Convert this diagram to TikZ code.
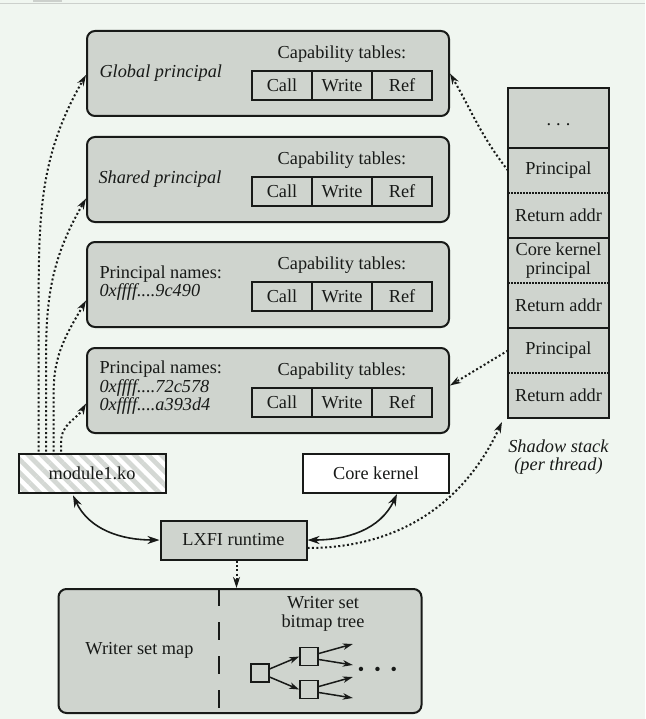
\documentclass[tikz,border=0pt]{standalone}
\usepackage{fontspec}
\setmainfont{Liberation Serif}
\usetikzlibrary{positioning,arrows.meta,patterns.meta}
\definecolor{bggreen}{RGB}{240,246,240}
\definecolor{boxgrey}{RGB}{207,212,206}
\definecolor{hatchgrey}{RGB}{212,216,212}
\definecolor{inkblack}{RGB}{24,26,24}
\definecolor{rulegrey}{RGB}{204,208,204}

\begin{document}
\begin{tikzpicture}[
        x=1pt, y=1pt,
        node distance=19pt,
        font=\fontsize{18.3}{18.5}\selectfont,
        color=inkblack,
        principal/.style={rectangle, rounded corners=8pt, draw=inkblack, line width=2pt, fill=boxgrey, minimum width=362pt, minimum height=85pt},
        cell/.style={rectangle, draw=inkblack, line width=2pt, minimum width=60pt, minimum height=29pt, inner sep=0pt, outer sep=0pt},
        stackcell/.style={rectangle, fill=boxgrey, minimum width=101pt, minimum height=45pt, inner sep=0pt, outer sep=0pt, align=center},
        plainbox/.style={rectangle, draw=inkblack, line width=2pt, minimum width=146pt, minimum height=39pt},
        treebox/.style={rectangle, draw=inkblack, line width=1.6pt, minimum size=18pt, inner sep=0pt},
        frame/.style={draw=inkblack, line width=2pt},
        divider/.style={draw=inkblack, line width=1.5pt, dash pattern=on 1.5pt off 1.5pt},
        link/.style={line width=2pt, dash pattern=on 2pt off 2.4pt, -{Stealth[length=11pt, width=7pt, inset=3.5pt]}},
        arrow/.style={line width=1.6pt, {Stealth[length=12pt, width=8pt, inset=4pt]}-{Stealth[length=12pt, width=8pt, inset=4pt]}},
        treearrow/.style={line width=1.5pt, -{Stealth[length=10pt, width=6.5pt, inset=3pt]}}
    ]
        \fill[bggreen] (0,0) rectangle (645,-719);
        \useasboundingbox (0,0) rectangle (645,-719);
        \draw[rulegrey, line width=1pt] (0,-3.5) -- (645,-3.5);
        \fill[rulegrey] (33,0) rectangle (62,-2);

        % principals
        \node[principal] (pglobal) at (268,-73.5) {};
        \node[principal, below=of pglobal] (pshared) {};
        \node[principal, below=18pt of pshared] (pnames) {};
        \node[principal, below=of pnames] (pmulti) {};

        \node[anchor=west] (tglobal) at ([xshift=10pt]pglobal.west) {\textit{Global principal}};
        \node[anchor=west] (tshared) at ([xshift=9pt]pshared.west) {\textit{Shared principal}};
        \node[anchor=west, align=left] (tnames) at ([xshift=10pt, yshift=1.5pt]pnames.west) {Principal names:\\\textit{0xffff....9c490}};
        \node[anchor=west, align=left] (tmulti) at ([xshift=10pt, yshift=2.5pt]pmulti.west) {Principal names:\\\textit{0xffff....72c578}\\\textit{0xffff....a393d4}};

        \foreach \p in {pglobal,pshared,pnames,pmulti} {
            \node[cell] (\p-write) at ([xshift=74pt, yshift=-12pt]\p.center) {Write};
            \node[cell, left=0pt of \p-write] (\p-call) {Call};
            \node[cell, right=0pt of \p-write] (\p-ref) {Ref};
            \node (\p-cap) at ([xshift=74pt, yshift=19.5pt]\p.center) {Capability tables:};
        }

        % shadow stack
        \node[stackcell, minimum height=60pt] (sdots) at (558.5,-118) {};
        \node (sdotstext) at ([yshift=-7pt]sdots.center) {.\hspace{5pt}.\hspace{5pt}.};
        \node[stackcell, below=0pt of sdots] (sprin1) {Principal};
        \node[stackcell, below=0pt of sprin1] (sret1) {Return addr};
        \node[stackcell, below=0pt of sret1] (sprin2) {Core kernel\\principal};
        \node[stackcell, below=0pt of sprin2] (sret2) {Return addr};
        \node[stackcell, below=0pt of sret2] (sprin3) {Principal};
        \node[stackcell, below=0pt of sprin3] (sret3) {Return addr};
        \draw[frame] (sdots.north west) rectangle (sdots.south east);
        \foreach \a/\b in {sprin1/sret1, sprin2/sret2, sprin3/sret3} {
            \draw[frame] (\a.north west) rectangle (\b.south east);
            \draw[divider] (\a.south west) -- (\a.south east);
        }
        \node[below=18pt of sret3, align=center] (slabel) {\textit{Shadow stack}\\\textit{(per thread)}};

        % kernel side
        \node[plainbox, minimum width=147pt, preaction={fill=white}, pattern={Lines[angle=-45, distance=9.4pt, line width=4.7pt]}, pattern color=hatchgrey] (module) at (92,-473.5) {module1.ko};
        \node[plainbox, fill=white] (core) at (376,-473.5) {Core kernel};
        \node[plainbox, fill=boxgrey] (lxfi) at (233.5,-540) {LXFI runtime};

        \node[principal, minimum width=363pt, minimum height=124pt] (wbox) at (240,-651) {};
        \draw[line width=2pt, dash pattern=on 18pt off 16pt] ([xshift=161pt]wbox.north west) -- ([xshift=161pt]wbox.south west);
        \node (wmap) at (139.5,-650) {Writer set map};
        \node[align=center] (wtree) at (323,-614) {Writer set\\bitmap tree};

        \node[treebox] (troot) at (259.7,-673) {};
        \node[treebox] (tup) at (309,-656.5) {};
        \node[treebox] (tdown) at (309,-689.5) {};
        \draw[treearrow] ([yshift=4pt]troot.east) -- (tup.west);
        \draw[treearrow] ([yshift=-4pt]troot.east) -- (tdown.west);
        \foreach \c in {tup,tdown} {
            \coordinate (\c-hi) at ([xshift=34pt, yshift=12.5pt]\c.east);
            \coordinate (\c-lo) at ([xshift=34pt, yshift=-8.5pt]\c.east);
            \draw[treearrow] ([yshift=3pt]\c.east) -- (\c-hi);
            \draw[treearrow] ([yshift=-3pt]\c.east) -- (\c-lo);
        }
        \node (tmore) at (377.5,-671) {\textbullet\hspace{10pt}\textbullet\hspace{10pt}\textbullet};

        % connectors
        \foreach \p/\dx/\dy/\up in {pglobal/22.5/1.5/150, pshared/30/19/100, pnames/37.5/16/60, pmulti/45/13/10} {
            \draw[link] ([xshift=\dx pt]module.north west) -- ++(0,\up) to[out=90, in=240] ([yshift=-\dy pt]\p.west);
        }
        \draw[arrow] ([xshift=-19pt]module.south) to[out=-65, in=180] (lxfi.west);
        \draw[arrow] ([xshift=21pt]core.south) to[out=-115, in=0] (lxfi.east);
        \draw[link] ([xshift=3pt]lxfi.south) -- ([xshift=3pt]lxfi.south |- wbox.north);
        \draw[link] ([yshift=-8pt]lxfi.east) to[out=0, in=245] ([xshift=-6pt, yshift=-4pt]sret3.south west);
        \draw[link] (sprin1.west) to[out=128, in=-60] (pglobal.east);
        \draw[link] (sprin3.west) -- ([yshift=5pt]pmulti.east);
    \end{tikzpicture}
\end{document}
